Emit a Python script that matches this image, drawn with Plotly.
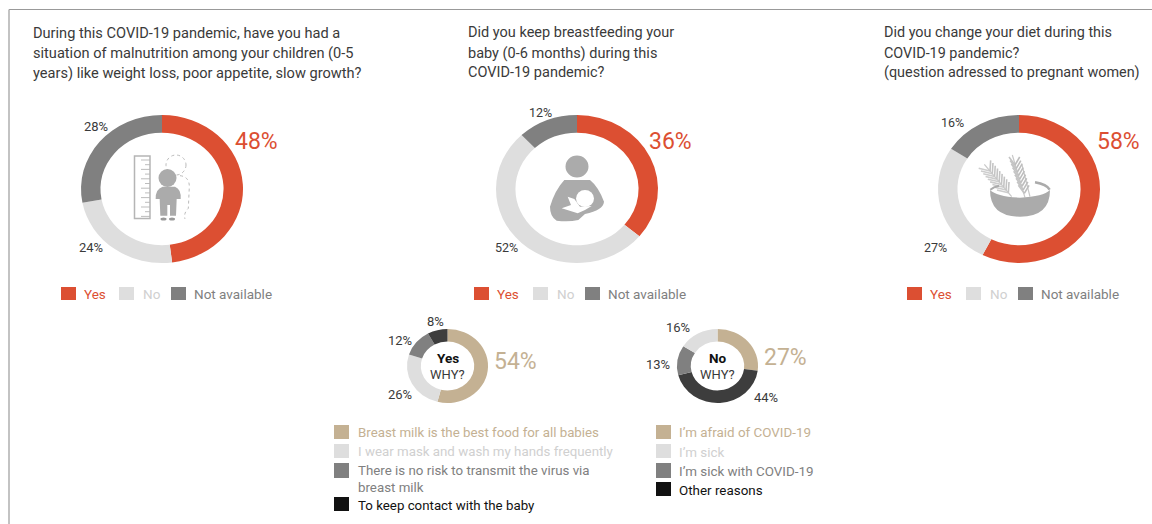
import re
import plotly.graph_objects as go

W, H = 1152, 524

# ---- data ----
labels_main = ["Yes", "No", "Not available"]
malnutrition_values = [48, 24, 28]
breastfeeding_values = [36, 52, 12]
diet_values = [58, 27, 16]

labels_yes_why = ["Breast milk is the best food for all babies",
                  "I wear mask and wash my hands frequently",
                  "There is no risk to transmit the virus via breast milk",
                  "To keep contact with the baby"]
yes_why_values = [54, 26, 12, 8]

labels_no_why = ["I'm afraid of COVID-19", "Other reasons", "I'm sick with COVID-19", "I'm sick"]
no_why_values = [27, 44, 13, 16]

RED, LIGHT, GRAY, TAN, DARK, BLACK = "#DC4F32", "#DEDEDE", "#808080", "#C4B193", "#3D3D3D", "#111111"
ICON = "#ABABAB"
TXT = "#3a3a3a"
FONT = "Roboto"

fig = go.Figure()
stretch = []


def donut(labels, values, colors, cx, cy, rx, ry, hole):
    fig.add_trace(go.Pie(
        labels=labels, values=values, hole=hole, sort=False, direction="clockwise", rotation=0,
        marker=dict(colors=colors, line=dict(width=0)), textinfo="none", hoverinfo="label+percent",
        showlegend=False,
        domain=dict(x=[(cx - rx) / W, (cx + rx) / W], y=[1 - (cy + rx) / H, 1 - (cy - rx) / H])))
    stretch.append((cx, cy, ry / rx))


donut(labels_main, malnutrition_values, [RED, LIGHT, GRAY], 162, 189, 81, 74, 0.76)
donut(labels_main, breastfeeding_values, [RED, LIGHT, GRAY], 577, 189, 81, 74, 0.76)
donut(labels_main, diet_values, [RED, LIGHT, GRAY], 1019, 189, 81, 74, 0.76)
donut(labels_yes_why, yes_why_values, [TAN, LIGHT, GRAY, DARK], 447.5, 366, 40.5, 37, 0.66)
donut(labels_no_why, no_why_values, [TAN, DARK, GRAY, LIGHT], 717.5, 366, 40.5, 37, 0.66)

ann = []
shapes = []


def text(x, y, s, size=13, color=TXT, anchor="left"):
    ann.append(dict(x=x / W, y=1 - y / H, xref="paper", yref="paper", text=s, showarrow=False,
                    xanchor=anchor, yanchor="middle", borderpad=0,
                    font=dict(size=size, color=color, family=FONT)))


def rect(x0, y0, x1, y1, color):
    shapes.append(dict(type="rect", xref="paper", yref="paper", x0=x0 / W, x1=x1 / W,
                       y0=1 - y0 / H, y1=1 - y1 / H, fillcolor=color, line=dict(width=0)))


def line(x0, y0, x1, y1, color, width=1.0, dash="solid"):
    shapes.append(dict(type="line", xref="paper", yref="paper", x0=x0 / W, x1=x1 / W,
                       y0=1 - y0 / H, y1=1 - y1 / H, line=dict(color=color, width=width, dash=dash)))


def circle(cx, cy, rx, ry, fill=None, lcolor=None, width=0, dash="solid"):
    shapes.append(dict(type="circle", xref="paper", yref="paper", x0=(cx - rx) / W, x1=(cx + rx) / W,
                       y0=1 - (cy + ry) / H, y1=1 - (cy - ry) / H,
                       fillcolor=fill if fill else "rgba(0,0,0,0)",
                       line=dict(color=lcolor if lcolor else "rgba(0,0,0,0)", width=width, dash=dash)))


def icon_path(ox, oy, s, fill=None, lcolor=None, width=0, dash="solid"):
    """s holds coordinates measured on a 3x crop whose corner is at (ox, oy)."""
    res, isx = [], True
    for tok in re.findall(r"[A-Za-z]|-?[\d.]+", s):
        if tok.isalpha():
            res.append(tok)
            isx = True
        else:
            v = float(tok)
            res.append(f"{(ox + v / 3) / W:.5f}" if isx else f"{1 - (oy + v / 3) / H:.5f}")
            isx = not isx
    shapes.append(dict(type="path", xref="paper", yref="paper", path=" ".join(res),
                       fillcolor=fill if fill else "rgba(0,0,0,0)",
                       line=dict(color=lcolor if lcolor else "rgba(0,0,0,0)", width=width, dash=dash)))


# frame
line(9, 9.5, W, 9.5, "#999999", 1.2)
line(9, 9.5, 9, H, "#AAAAAA", 1.4)

# titles
for y, s in zip([33, 53, 73], ["During this COVID-19 pandemic, have you had a",
                               "situation of malnutrition among your children (0-5",
                               "years) like weight loss, poor appetite, slow growth?"]):
    text(31.5, y, s, 14.6)
for y, s in zip([33, 53, 73], ["Did you keep breastfeeding your",
                               "baby (0-6 months) during this",
                               "COVID-19 pandemic?"]):
    text(466.5, y, s, 14.5)
for y, s in zip([33, 53, 73], ["Did you change your diet during this",
                               "COVID-19 pandemic?",
                               "(question adressed to pregnant women)"]):
    text(882.5, y, s, 14.4)

# value labels
text(256.5, 141, "48%", 23, RED, "center")
text(96, 126, "28%", 13, TXT, "center")
text(91, 247, "24%", 13, TXT, "center")
text(670.5, 141, "36%", 23, RED, "center")
text(540, 112, "12%", 12.5, TXT, "center")
text(506, 247, "52%", 12.5, TXT, "center")
text(1118, 141, "58%", 23, RED, "center")
text(952, 122, "16%", 12.5, TXT, "center")
text(935, 247, "27%", 12.5, TXT, "center")

text(515, 361, "54%", 23, TAN, "center")
text(435, 321, "8%", 13, TXT, "center")
text(400, 340, "12%", 13, TXT, "center")
text(400, 394, "26%", 13, TXT, "center")
text(785, 357, "27%", 23, TAN, "center")
text(678, 327, "16%", 13, TXT, "center")
text(658, 364, "13%", 13, TXT, "center")
text(766, 397, "44%", 13, TXT, "center")

text(447.5, 358, "<b>Yes</b>", 13.5, "#111111", "center")
text(447.5, 374, "WHY?", 13, TXT, "center")
text(717.5, 358, "<b>No</b>", 13.5, "#111111", "center")
text(717.5, 374, "WHY?", 13, TXT, "center")

# legends
for offs in [((61, 83), (119, 142), (171, 193)), ((474, 496), (533, 556), (585, 607)),
             ((907, 929), (966, 989), (1018, 1040))]:
    for (sx, tx), lab, c, tc in zip(offs, labels_main, [RED, LIGHT, GRAY], [RED, "#D0D0D0", GRAY]):
        rect(sx, 287, sx + 15, 300, c)
        text(tx, 294, lab, 13.5, tc)

for y0, y1, ty, lab, c, tc in [(425, 439, 432, labels_yes_why[0], TAN, TAN),
                               (444, 458, 451, labels_yes_why[1], LIGHT, "#D0D0D0"),
                               (463, 478, 470, "There is no risk to transmit the virus via", GRAY, GRAY),
                               (497, 511, 505, labels_yes_why[3], BLACK, BLACK)]:
    rect(334, y0, 349, y1, c)
    text(357, ty, lab, 13.3, tc)
text(357, 487, "breast milk", 13.3, GRAY)
for y0, y1, ty, lab, c, tc in [(425, 439, 432, "I\u2019m afraid of COVID-19", TAN, TAN),
                               (444, 458, 452, "I\u2019m sick", LIGHT, "#D0D0D0"),
                               (463, 478, 471, "I\u2019m sick with COVID-19", GRAY, GRAY),
                               (482, 496, 490, "Other reasons", BLACK, BLACK)]:
    rect(656, y0, 671, y1, c)
    text(678, ty, lab, 13.4, tc)

# icon 1: ruler and child
shapes.append(dict(type="rect", xref="paper", yref="paper", x0=134.5 / W, x1=150 / W,
                   y0=1 - 218.5 / H, y1=1 - 156 / H, fillcolor="rgba(0,0,0,0)",
                   line=dict(color="#B5B5B5", width=1.5)))
for i in range(13):
    y = 160 + i * 4.7
    line(150, y, 145 if i % 2 else 141, y, "#B5B5B5", 0.9)
circle(176, 165, 10, 10, lcolor="#BBBBBB", width=1, dash="dot")
icon_path(120, 145, "M180 92 Q208 95 208 125 L205 190 Q190 205 195 222", lcolor="#BBBBBB", width=1, dash="dot")
circle(167.5, 178, 9, 9, fill=ICON)
icon_path(120, 145, "M128 125 L165 125 Q184 132 182 162 L170 162 L168 212 L150 212 L150 180 L142 180 "
                    "L142 212 L121 212 L119 162 L107 162 Q106 132 128 125 Z", fill=ICON)
circle(163.5, 219, 3, 1.5, fill="#999999")
circle(172, 219, 3, 1.5, fill="#999999")

# icon 2: breastfeeding
circle(577, 166.5, 11.5, 11, fill=ICON)
icon_path(535, 145, "M88 105 L165 105 Q190 125 207 170 Q205 195 150 207 L130 225 Q100 232 65 227 "
                    "Q45 215 45 185 Q60 135 88 105 Z", fill=ICON)
circle(585, 198.5, 9, 8.5, fill="white")
icon_path(535, 145, "M80 190 L108 180 L98 155 L118 162 L135 185 L170 183 L150 195 L128 205 Z", fill="white")

# icon 3: wheat (a stalk with rows of grains) and bowl
for ox0, oy0, ox1, oy1 in [(110, 155, 28, 58), (150, 158, 112, 30), (165, 155, 140, 55)]:
    icon_path(975, 145, f"M{ox0} {oy0} L{ox1} {oy1}", lcolor="#C8C8C8", width=1.2)
for t in [i / 8 for i in range(9)]:
    x = 100 - 55 * t
    y = 143 - 65 * t
    icon_path(975, 145, f"M{x} {y} L{x - 34} {y - 8}", lcolor="#CDCDCD", width=1.6)
    icon_path(975, 145, f"M{x} {y} L{x + 2} {y - 32}", lcolor="#C4C4C4", width=1.6)
    x = 148 - 28 * t
    y = 145 - 85 * t
    icon_path(975, 145, f"M{x} {y} L{x - 18} {y - 24}", lcolor="#C4C4C4", width=1.6)
    icon_path(975, 145, f"M{x} {y} L{x + 14} {y - 24}", lcolor="#BDBDBD", width=1.6)
icon_path(975, 145, "M45 135 Q45 215 135 215 Q225 215 225 135 Q205 155 135 158 Q65 155 45 135 Z", fill=ICON)
icon_path(975, 145, "M46 134 Q55 126 72 122", lcolor=ICON, width=2)
icon_path(975, 145, "M180 112 Q215 118 224 134", lcolor=ICON, width=2.5)

fig.update_layout(width=W, height=H, autosize=False, margin=dict(l=0, r=0, t=0, b=0),
                  paper_bgcolor="white", plot_bgcolor="white", showlegend=False,
                  annotations=ann, shapes=shapes)

# remove the page's default margin; the reference's rings are slightly wider than tall,
# so squash each pie vertically about its own centre
js = "document.body.style.margin='0';document.documentElement.style.overflow='hidden';" \
     "var s=%s;document.querySelectorAll('.pielayer .trace').forEach(function(g,i){var c=s[i];" \
     "g.setAttribute('transform','translate('+c[0]+' '+c[1]+') scale(1 '+c[2]+') translate('+(-c[0])+' '+(-c[1])+')');});" % (
         [list(t) for t in stretch])
fig.write_html("out.html", post_script=js, config=dict(displayModeBar=False))
